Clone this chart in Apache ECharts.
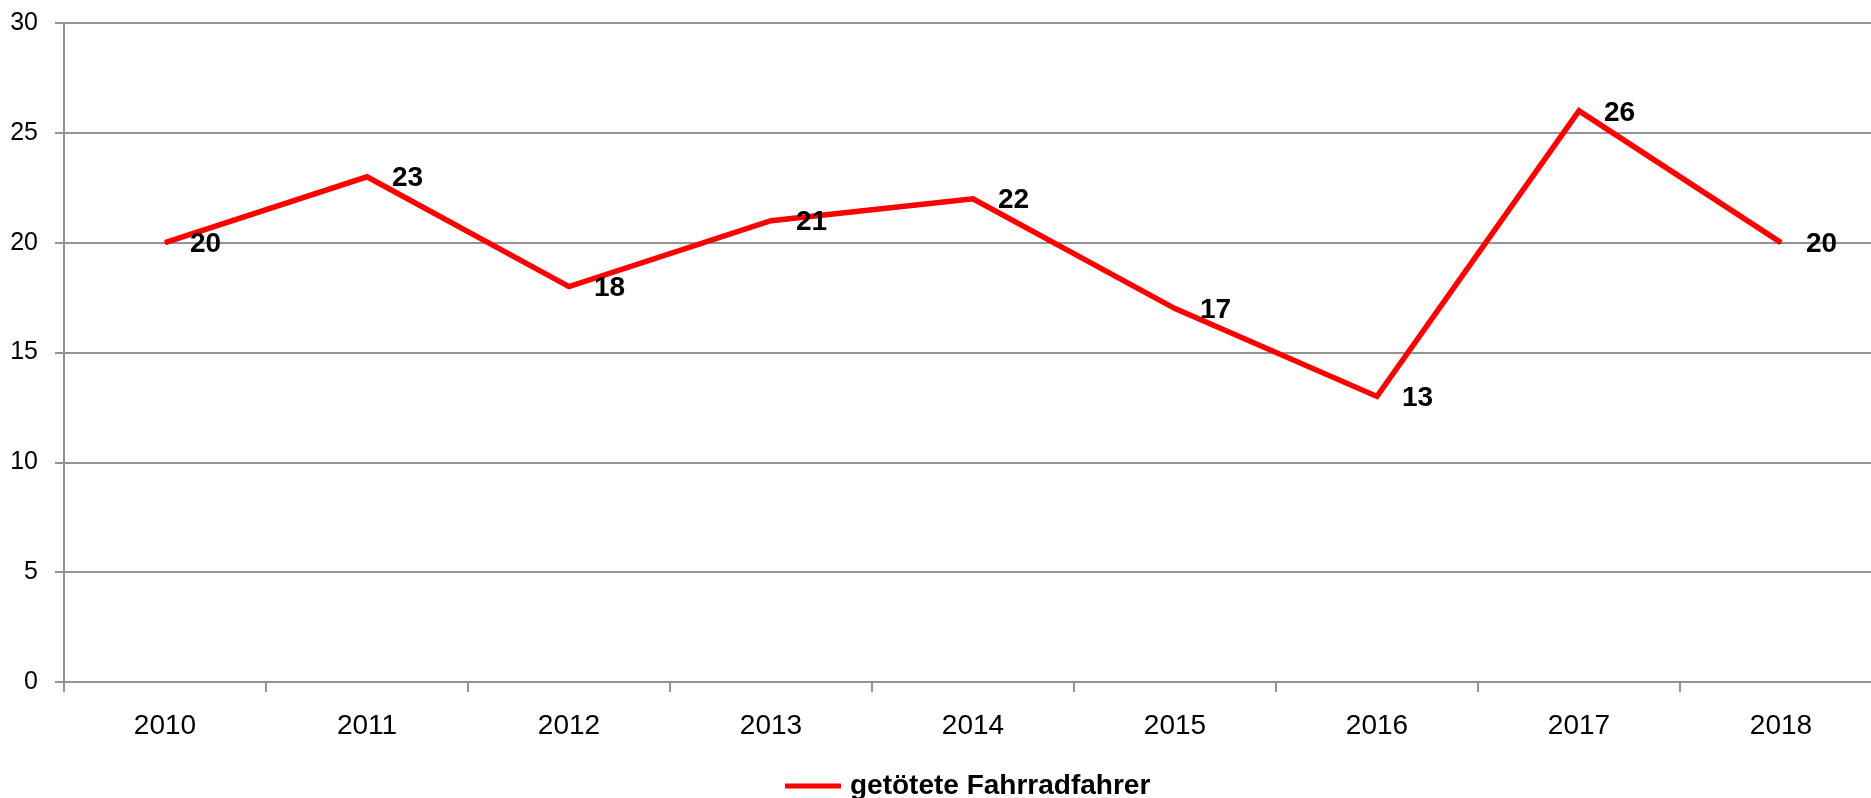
<!DOCTYPE html>
<html>
<head>
<meta charset="utf-8">
<script src="https://cdn.jsdelivr.net/npm/echarts@6/dist/echarts.min.js"></script>
<style>
html,body{margin:0;padding:0;background:#fff;}
#chart{width:1871px;height:798px;}
</style>
</head>
<body>
<div id="chart"></div>
<script>
const categories = ['2010','2011','2012','2013','2014','2015','2016','2017','2018'];
const values = [20, 23, 18, 21, 22, 17, 13, 26, 20];
const seriesName = 'getötete Fahrradfahrer';
const yTicks = { min: 0, max: 30, interval: 5 };

const chart = echarts.init(document.getElementById('chart'), null, {renderer: 'canvas'});
const gray = '#939393';
const font = 'Liberation Sans';
chart.setOption({
  animation: false,
  backgroundColor: '#ffffff',
  grid: { left: 64, top: 23, height: 659, width: 1818, containLabel: false, outerBoundsMode: 'none' },
  legend: {
    data: [{ name: seriesName, icon: 'rect' }],
    left: 780,
    top: 767,
    itemWidth: 56,
    itemHeight: 5,
    itemGap: 20,
    textStyle: { fontFamily: font, fontSize: 28, fontWeight: 'bold', color: '#000', padding: [0,0,0,4] }
  },
  xAxis: {
    type: 'category',
    data: categories,
    boundaryGap: true,
    axisLine: { show: true, lineStyle: { color: gray, width: 2 } },
    axisTick: { show: true, length: 10, lineStyle: { color: gray, width: 2 } },
    axisLabel: { fontFamily: font, fontSize: 28, color: '#000', margin: 30 },
    splitLine: { show: false }
  },
  yAxis: {
    type: 'value',
    min: yTicks.min, max: yTicks.max, interval: yTicks.interval,
    axisLine: { show: true, lineStyle: { color: gray, width: 2 } },
    axisTick: { show: true, length: 9, lineStyle: { color: gray, width: 2 } },
    axisLabel: { fontFamily: font, fontSize: 25, color: '#000', margin: 26 },
    splitLine: { show: true, lineStyle: { color: gray, width: 2 } }
  },
  series: [{
    name: seriesName,
    type: 'line',
    data: values,
    symbol: 'circle',
    symbolSize: 2,
    showSymbol: true,
    color: '#FF0000',
    lineStyle: { color: '#FF0000', width: 5.5, join: 'miter' },
    itemStyle: { color: '#FF0000' },
    label: {
      show: true,
      position: 'right',
      distance: 24,
      offset: [0, 2],
      fontFamily: font,
      fontSize: 28,
      fontWeight: 'bold',
      color: '#000'
    },
    z: 5
  }]
});
</script>
</body>
</html>
